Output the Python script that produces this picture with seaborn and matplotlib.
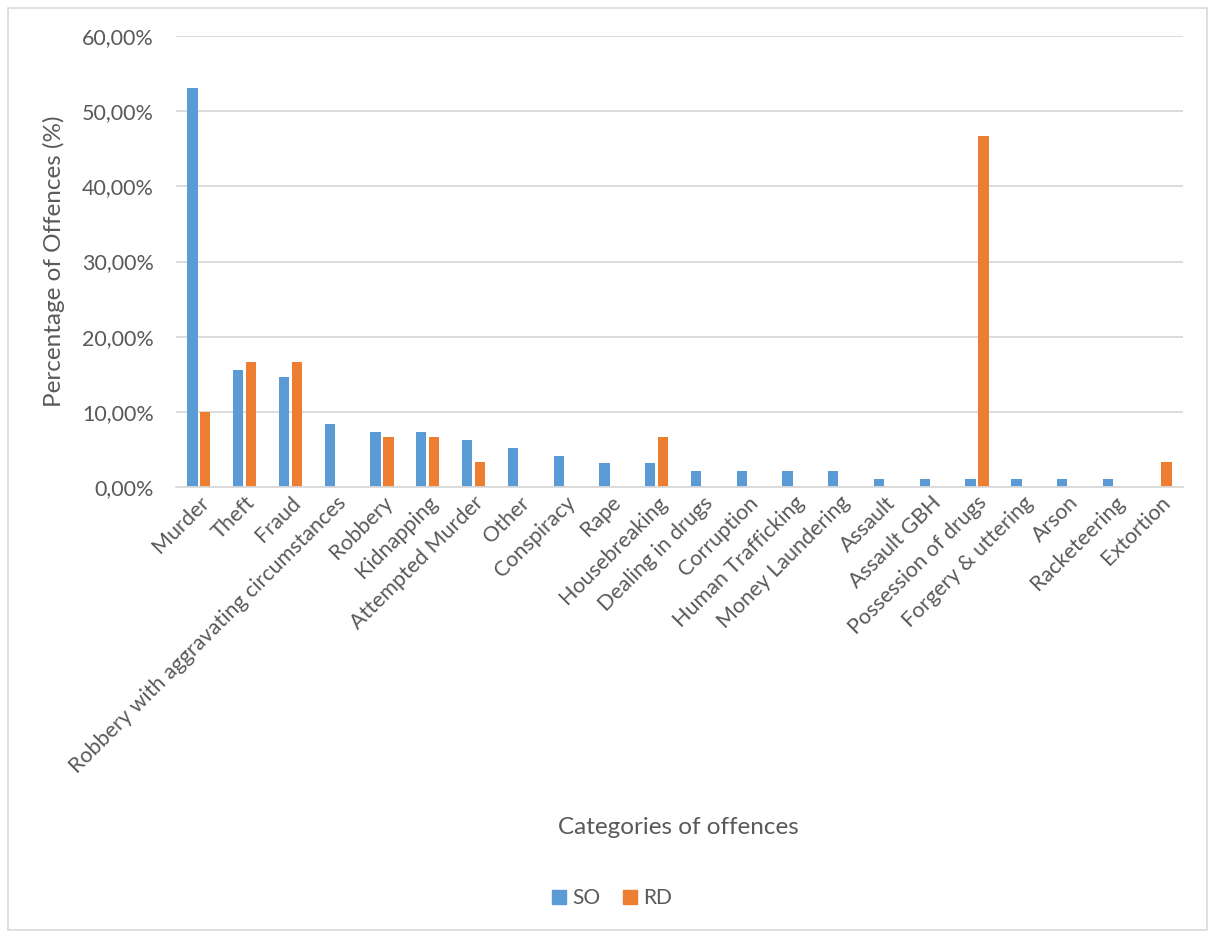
import matplotlib
matplotlib.use("Agg")
import matplotlib.pyplot as plt
import matplotlib.patches as mpatches
from matplotlib.ticker import FuncFormatter, MultipleLocator
import pandas as pd
import seaborn as sns

categories = [
    "Murder", "Theft", "Fraud", "Robbery with aggravating circumstances",
    "Robbery", "Kidnapping", "Attempted Murder", "Other", "Conspiracy",
    "Rape", "Housebreaking", "Dealing in drugs", "Corruption",
    "Human Trafficking", "Money Laundering", "Assault", "Assault GBH",
    "Possession of drugs", "Forgery & uttering", "Arson", "Racketeering",
    "Extortion",
]
so_values = [53.13, 15.63, 14.58, 8.33, 7.29, 7.29, 6.25, 5.21, 4.17, 3.13,
             3.13, 2.08, 2.08, 2.08, 2.08, 1.04, 1.04, 1.04, 1.04, 1.04,
             1.04, 0.0]
rd_values = [10.0, 16.67, 16.67, 0.0, 6.67, 6.67, 3.33, 0.0, 0.0, 0.0,
             6.67, 0.0, 0.0, 0.0, 0.0, 0.0, 0.0, 46.67, 0.0, 0.0, 0.0, 3.33]
series = ["SO", "RD"]
colors = {"SO": "#5B9BD5", "RD": "#ED7D31"}

df = pd.DataFrame({
    "Category": categories * 2,
    "Series": ["SO"] * len(categories) + ["RD"] * len(categories),
    "Value": so_values + rd_values,
})

sns.set_theme(style="white")
plt.rcParams["font.family"] = ["Lato", "DejaVu Sans"]
text_color = "#595959"
grid_color = "#D9D9D9"

fig = plt.figure(figsize=(12.1, 9.33), dpi=100)
ax = fig.add_axes([176 / 1210, 1 - 487 / 933, (1183 - 176) / 1210, (487 - 36) / 933])

sns.barplot(data=df, x="Category", y="Value", hue="Series", hue_order=series,
            palette=colors, order=categories, width=0.56, gap=0.2,
            saturation=1, ax=ax, legend=False, linewidth=0)

ax.set_ylim(0, 60)
ax.set_xlim(-0.5, len(categories) - 0.5)
ax.yaxis.set_major_locator(MultipleLocator(10))
ax.yaxis.set_major_formatter(FuncFormatter(lambda v, _: f"{v:.2f}%".replace(".", ",")))
ax.grid(axis="y", color=grid_color, linewidth=1.3)
ax.set_axisbelow(True)
for side in ["top", "right", "left"]:
    ax.spines[side].set_visible(False)
ax.spines["bottom"].set_color(grid_color)
ax.spines["bottom"].set_linewidth(1.3)
ax.tick_params(axis="both", length=0, colors=text_color, labelsize=15.5)
ax.tick_params(axis="y", pad=16)
ax.tick_params(axis="x", pad=4)
plt.setp(ax.get_xticklabels(), rotation=45, ha="right", rotation_mode="anchor")

ax.set_xlabel("")
ax.set_ylabel("Percentage of Offences (%)", fontsize=17.5, color=text_color, labelpad=12)
fig.text(678 / 1210, 1 - 827 / 933, "Categories of offences", ha="center",
         va="center", fontsize=17.5, color=text_color)

handles = [mpatches.Patch(color=colors[s], label=s) for s in series]
fig.legend(handles=handles, loc="center", bbox_to_anchor=(612 / 1210, 1 - 898 / 933),
           ncol=2, frameon=False, fontsize=15, labelcolor=text_color,
           handlelength=0.65, handleheight=0.65, handletextpad=0.3, columnspacing=1.1)

fig.patches.append(mpatches.Rectangle((8 / 1210, 3 / 933), 1199 / 1210, 922 / 933,
                                      transform=fig.transFigure, fill=False,
                                      edgecolor=grid_color, linewidth=1.2))

fig.savefig("out.png", dpi=100, facecolor="white")
